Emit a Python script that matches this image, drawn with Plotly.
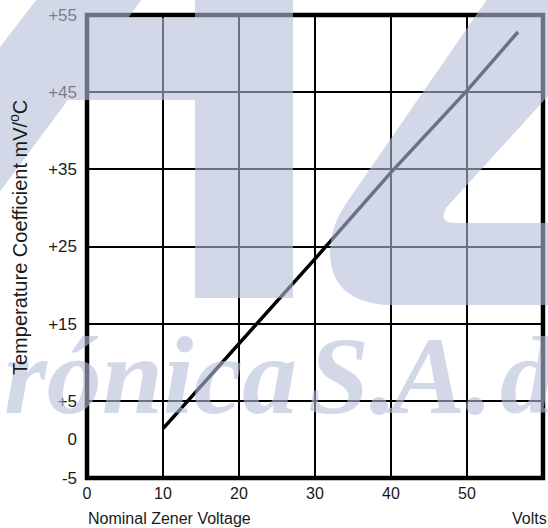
import plotly.graph_objects as go

# ---- data ----
zener_volts = [10, 20, 30, 40, 50, 56.7]
temp_coeff = [1.4, 12.4, 23.4, 34.6, 45.2, 52.8]

x_tick_vals = [0, 10, 20, 30, 40, 50]
x_tick_text = ["0", "10", "20", "30", "40", "50"]
y_tick_vals = [-5, 0, 5, 15, 25, 35, 45, 55]
y_tick_text = ["-5", "0", "+5", "+15", "+25", "+35", "+45", "+55"]
y_grid_vals = [5, 15, 25, 35, 45]

# ---- layout geometry (pixels) ----
W, H = 548, 528
ML, MR, MT, MB = 87, 5, 15, 50
PW = W - ML - MR
PH = H - MT - MB


def P(px, py):
    """pixel -> paper coordinates"""
    return (px - ML) / PW, (H - MB - py) / PH


def path(cmds):
    out = []
    for c in cmds:
        if isinstance(c, str):
            out.append(c)
        else:
            x, y = P(*c)
            out.append(f"{x:.4f},{y:.4f}")
    return " ".join(out)


WM = "rgba(180,190,215,0.6)"

fig = go.Figure()
fig.add_trace(go.Scatter(
    x=zener_volts, y=temp_coeff, mode="lines",
    line=dict(color="black", width=3.5), showlegend=False, hoverinfo="skip",
))
# invisible trace to activate the grid overlay axis
fig.add_trace(go.Scatter(x=[None], y=[None], yaxis="y2", showlegend=False))

font_sans = "Liberation Sans, Arial, sans-serif"

fig.update_layout(
    width=W, height=H,
    margin=dict(l=ML, r=MR, t=MT, b=MB, autoexpand=False),
    paper_bgcolor="white", plot_bgcolor="white",
    font=dict(family=font_sans, size=16, color="#1a1a1a"),
    xaxis=dict(range=[0, 60], tickvals=x_tick_vals, ticktext=x_tick_text,
               showgrid=True, gridcolor="black", gridwidth=1.6,
               zeroline=False, showline=False, ticks="",
               tickfont=dict(size=16), ticklabelstandoff=4),
    yaxis=dict(range=[-5, 55], tickvals=y_tick_vals, ticktext=y_tick_text,
               showgrid=False, zeroline=False, showline=False, ticks="",
               tickfont=dict(size=17), ticklabelstandoff=9),
    yaxis2=dict(range=[-5, 55], overlaying="y", tickvals=y_grid_vals,
                showgrid=True, gridcolor="black", gridwidth=1.6,
                showticklabels=False, zeroline=False, ticks=""),
)

shapes = []
# frame
shapes.append(dict(type="rect", xref="paper", yref="paper", x0=0, x1=1, y0=0, y1=1,
                   line=dict(color="black", width=4.5), layer="above"))

# watermark: left "I" shape with diagonal band
shapes.append(dict(type="path", xref="paper", yref="paper", layer="above",
                   fillcolor=WM, line=dict(width=0),
                   path=path(["M", (40, -5), "L", (145, -5), "L", (128, 18), "L", (195, 18),
                              "L", (195, -5), "L", (293, -5), "L", (293, 298), "L", (195, 298),
                              "L", (195, 100), "L", (68, 100), "L", (-10, 205), "L", (-10, 60), "Z"])))
# watermark: right "C" shape
shapes.append(dict(type="path", xref="paper", yref="paper", layer="above",
                   fillcolor=WM, line=dict(width=0),
                   path=path(["M", (490, -5), "L", (640, -5), "L", (446, 208),
                              "Q", (438, 223), (456, 223), "L", (560, 223), "L", (560, 305),
                              "L", (385, 305), "Q", (330, 300), (330, 252),
                              "Q", (330, 228), (345, 205), "Z"])))
fig.update_layout(shapes=shapes)

wm_font = dict(family="Liberation Serif", size=110, color=WM, weight="bold", style="italic")
annots = []
for txt, px in [("rónica", 2), ("S.", 306), ("A.", 384), ("d", 498)]:
    x, y = P(px, 376)
    annots.append(dict(text=txt, xref="paper", yref="paper", x=x, y=y,
                       xanchor="left", yanchor="middle", showarrow=False, font=wm_font))

tx, ty = P(19, 238)
nx, ny = P(86, 518)
vx, vy = P(549, 518)
annots += [
    dict(text="Temperature Coefficient mV/<sup>o</sup>C", xref="paper", yref="paper",
         x=tx, y=ty, textangle=-90, showarrow=False, xanchor="center", yanchor="middle",
         font=dict(size=20)),
    dict(text="Nominal Zener Voltage", xref="paper", yref="paper", x=nx, y=ny,
         xanchor="left", yanchor="middle", showarrow=False, font=dict(size=16)),
    dict(text="Volts", xref="paper", yref="paper", x=vx, y=vy,
         xanchor="right", yanchor="middle", showarrow=False, font=dict(size=16)),
]
fig.update_layout(annotations=annots)

fig.write_html("out.html", config={"displayModeBar": False},
               post_script="document.body.style.margin='0';")
